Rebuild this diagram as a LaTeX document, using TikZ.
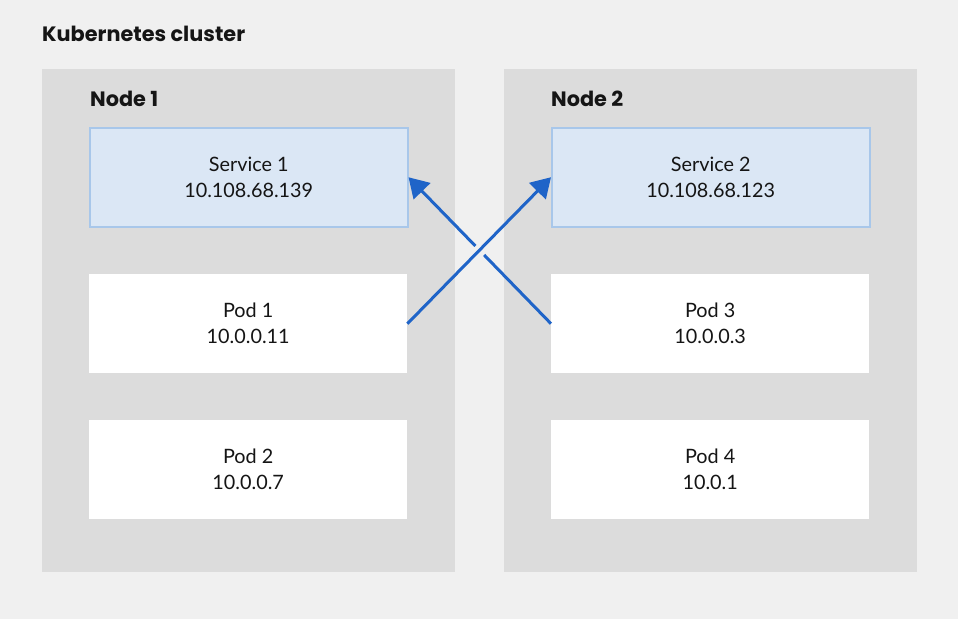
\documentclass[tikz,border=0pt]{standalone}
\usepackage{fontspec}
\setmainfont{Lato}
\newfontfamily\lblfont{Poppins}
\usetikzlibrary{arrows.meta,calc}
\definecolor{bgc}{HTML}{F0F0F0}
\definecolor{nodec}{HTML}{DCDCDC}
\definecolor{svcfill}{HTML}{DBE7F5}
\definecolor{svcline}{HTML}{A8C7EA}
\definecolor{arrc}{HTML}{1F64C8}
\definecolor{txt}{HTML}{151515}
\tikzset{
  nodebox/.style={fill=nodec, draw=none, minimum width=413pt, minimum height=503pt, anchor=north west, inner sep=0pt},
  svcbox/.style={fill=svcfill, draw=svcline, line width=1.5pt, minimum width=318pt, minimum height=99pt, anchor=north west, inner sep=0pt, align=center, font=\fontsize{19.8pt}{26pt}\selectfont, text=txt},
  podbox/.style={fill=white, draw=none, minimum width=318pt, minimum height=99pt, anchor=north west, inner sep=0pt, align=center, font=\fontsize{19.8pt}{26pt}\selectfont, text=txt},
  lbl/.style={anchor=base west, inner sep=0pt, font=\lblfont\fontsize{20.8pt}{24pt}\selectfont\bfseries, text=txt},
  conn/.style={draw=arrc, line width=3pt},
  conna/.style={conn, -{Triangle[length=19.5pt,width=23pt]}}
}
\begin{document}
\begin{tikzpicture}[x=1pt,y=-1pt]
\fill[bgc] (0,0) rectangle (958,619);
\useasboundingbox (0,0) rectangle (958,619);
\node[lbl] (title) at (42,41) {Kubernetes cluster};
\node[nodebox] (n1) at (42,69) {};
\node[nodebox] (n2) at (504,69) {};
\node[lbl] (n1l) at (90,106) {Node 1};
\node[lbl] (n2l) at (551,106) {Node 2};
\node[svcbox] (s1) at (89,127) {Service 1\\10.108.68.139};
\node[svcbox] (s2) at (551,127) {Service 2\\10.108.68.123};
\node[podbox] (p1) at (89,274) {Pod 1\\10.0.0.11};
\node[podbox] (p2) at (89,420) {Pod 2\\10.0.0.7};
\node[podbox] (p3) at (551,274) {Pod 3\\10.0.0.3};
\node[podbox] (p4) at (551,420) {Pod 4\\10.0.1};
\draw[conna] (p1.east) -- (s2.west);
\coordinate (g1) at ($(p3.west)!0.469!(s1.east)$);
\coordinate (g2) at ($(p3.west)!0.531!(s1.east)$);
\draw[conn] (p3.west) -- (g1);
\draw[conna] (g2) -- (s1.east);
\end{tikzpicture}
\end{document}
